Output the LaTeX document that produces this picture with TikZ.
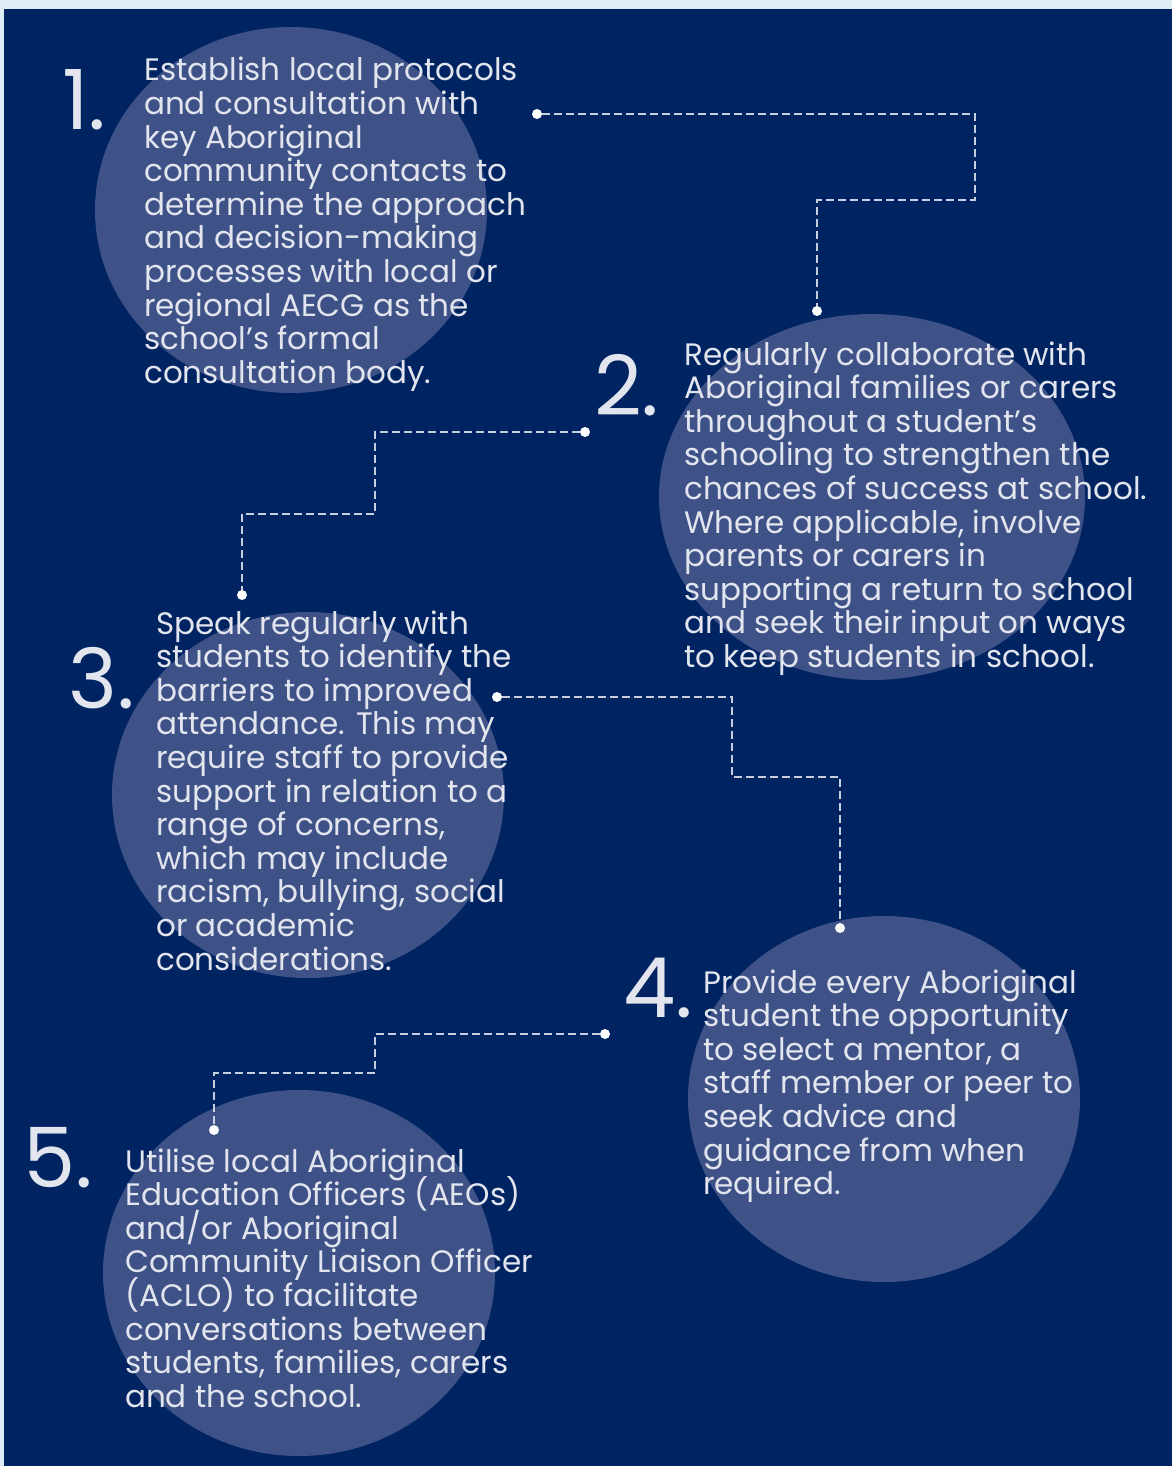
\documentclass[tikz,border=0pt]{standalone}
\usepackage{fontspec}
\setmainfont{Poppins}
\usetikzlibrary{shapes.geometric}
\definecolor{navy}{RGB}{0,36,98}
\definecolor{disccol}{RGB}{62,82,136}
\definecolor{ink}{RGB}{226,229,237}
\definecolor{stripcol}{RGB}{222,236,246}
\definecolor{dashcol}{RGB}{200,208,224}
% left-aligned block of lines whose baseline is that of its first line,
% with a fixed distance between baselines
\newcommand\textlines[1]{\vtop{\baselineskip=33.6pt\lineskiplimit=-100pt\lineskip=0pt
  \let\\\cr\halign{##\hfil\cr#1\cr}}}
\begin{document}
\begin{tikzpicture}[x=1pt,y=-1pt,
  disc/.style={ellipse, fill=disccol, inner sep=0pt, minimum width=392pt, minimum height=366pt},
  num/.style={anchor=base west, inner sep=0pt, text=ink, font=\fontsize{83}{83}\selectfont},
  body/.style={anchor=base west, inner sep=0pt, text=ink, font=\fontsize{31}{33.6}\selectfont},
  link/.style={draw=dashcol, line width=1.4pt, dash pattern=on 8pt off 4pt},
  dot/.style={circle, fill=white, inner sep=0pt, minimum size=10pt}]
\useasboundingbox (0,0) rectangle (1172,1466);
% page frame and navy panel
\fill[stripcol] (0,0) rectangle (1172,1466);
\fill[navy] (4,9) rectangle (1172,1466);

% discs behind the steps
\node[disc] (d1) at (291,210) {};
\node[disc, minimum width=426pt] (d2) at (872,497) {};
\node[disc] (d3) at (308,795) {};
\node[disc] (d4) at (884,1099) {};
\node[disc] (d5) at (299,1273) {};

% step numbers
\node[num] (n1) at (62,130) {1.};
\node[num] (n2) at (594,415) {2.};
\node[num] (n3) at (68,708) {3.};
\node[num] (n4) at (623,1017) {4.};
\node[num] (n5) at (23,1187) {5.};

% step texts
\node[body] (t1) at (144,81) {\textlines{Establish local protocols\\and consultation with\\key Aboriginal\\community contacts to\\determine the approach\\and decision-making\\processes with local or\\regional AECG as the\\school’s formal\\consultation body.}};
\node[body] (t2) at (684,365) {\textlines{Regularly collaborate with\\Aboriginal families or carers\\throughout a student’s\\schooling to strengthen the\\chances of success at school.\\Where applicable, involve\\parents or carers in\\supporting a return to school\\and seek their input on ways\\to keep students in school.}};
\node[body] (t3) at (156,634) {\textlines{Speak regularly with\\students to identify the\\barriers to improved\\attendance. This may\\require staff to provide\\support in relation to a\\range of concerns,\\which may include\\racism, bullying, social\\or academic\\considerations.}};
\node[body] (t4) at (703,993) {\textlines{Provide every Aboriginal\\student the opportunity\\to select a mentor, a\\staff member or peer to\\seek advice and\\guidance from when\\required.}};
\node[body] (t5) at (125,1172) {\textlines{Utilise local Aboriginal\\Education Officers (AEOs)\\and/or Aboriginal\\Community Liaison Officer\\(ACLO) to facilitate\\conversations between\\students, families, carers\\and the school.}};

% connector end dots
\node[dot] (p1a) at (537,114) {};
\node[dot] (p1b) at (817,311) {};
\node[dot] (p2a) at (585,432) {};
\node[dot] (p2b) at (242,595) {};
\node[dot] (p3a) at (497,697) {};
\node[dot] (p3b) at (840,928) {};
\node[dot] (p4a) at (605,1034) {};
\node[dot] (p4b) at (214,1130) {};

% bends of the stepped connectors
\coordinate (k1) at (975,200);
\coordinate (k2) at (375,514);
\coordinate (k3) at (732,777);
\coordinate (k4) at (375,1073);

\draw[link] (p1a) -| (k1) -| (p1b);
\draw[link] (p2a) -| (k2) -| (p2b);
\draw[link] (p3a) -| (k3) -| (p3b);
\draw[link] (p4a) -| (k4) -| (p4b);
\end{tikzpicture}
\end{document}
